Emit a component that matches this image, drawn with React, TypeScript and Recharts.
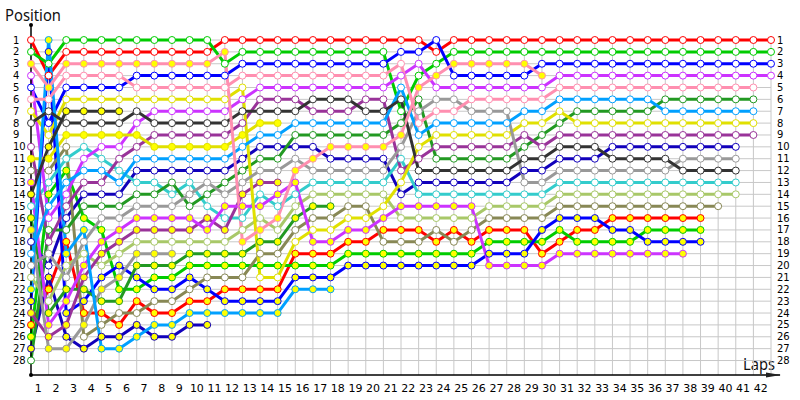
import { LineChart, Line, XAxis, YAxis, ReferenceLine, ReferenceDot } from "recharts";

const FONT = "'Noto Sans', sans-serif";
const TICK_FONT = "'DejaVu Sans', sans-serif";
const GRID = "#c8c8c8";

const red = [1,4,2,2,2,2,2,2,2,2, 2,1,1,1,1,1,1,1,1,1, 1,1,1,2,1,1,1,1,1,1, 1,1,1,1,1,1,1,1,1,1, 1,1,1];
const green = [2,3,1,1,1,1,1,1,1,1, 1,3,2,2,2,2,2,2,2,2, 2,7,4,3,2,2,2,2,2,2, 2,2,2,2,2,2,2,2,2,2, 2,2,2];
const blue = [5,8,5,5,5,5,4,4,4,4, 4,4,3,3,3,3,3,3,3,3, 3,2,2,1,4,4,4,4,4,3, 3,3,3,3,3,3,3,3,3,3, 3,3,3];
const violet = [4,16,14,11,10,10,8,7,7,7, 7,7,6,5,5,5,5,5,5,5, 5,4,3,5,5,5,5,5,5,5, 4,4,4,4,4,4,4,4,4,4, 4,4,4];
const pink = [6,6,4,4,4,4,5,5,5,5, 5,5,4,4,4,4,4,4,4,4, 4,3,8,7,7,6,6,6,6,6, 5,5,5,5,5,5,5,5,5,5, 5,5];
const forest = [28,17,17,15,15,15,14,14,13,15, 14,13,12,11,11,9,9,9,9,9, 9,8,6,11,11,11,11,11,10,9, 8,7,7,7,7,7,6,6,6,6, 6,6];
const sky = [19,15,13,12,12,13,11,11,11,11, 11,11,10,9,9,8,8,8,8,8, 8,5,9,8,8,8,8,8,7,7, 6,6,6,6,6,6,7,7,7,7, 7,7];
const yellow = [7,9,6,6,6,6,6,6,6,6, 6,6,5,21,21,18,17,17,16,16, 15,13,10,9,9,9,9,9,8,8, 7,8,8,8,8,8,8,8,8,8, 8,8];
const purple = [10,18,15,13,13,11,10,9,9,9, 9,9,8,6,6,6,7,7,7,6, 6,12,11,10,10,10,10,10,9,10, 9,9,9,9,9,9,9,9,9,9, 9,9];
const navy = [18,20,16,14,14,14,12,12,12,12, 12,12,11,10,10,10,10,11,11,11, 11,14,13,13,13,13,13,13,12,12, 11,11,11,10,10,10,10,10,10,10, 10];
const dark = [8,7,8,8,8,8,7,8,8,8, 8,8,7,7,7,7,6,6,6,7, 7,6,12,12,12,12,12,12,11,11, 10,10,10,11,11,11,11,12,12,12, 12];
const gray = [20,19,21,18,16,16,15,15,15,14, 13,14,13,12,12,11,12,12,12,12, 12,10,7,6,6,7,7,7,13,13, 12,12,12,12,12,12,12,11,11,11, 11];
const cyan = [15,13,11,10,11,12,13,13,14,13, 15,16,16,14,15,14,13,13,13,13, 13,11,14,14,14,14,14,14,14,14, 13,13,13,13,13,13,13,13,13,13, 13];
const lime = [21,23,20,19,20,19,18,18,18,18, 18,18,17,16,17,15,14,14,14,14, 14,16,16,16,16,16,15,15,15,15, 14,14,14,14,14,14,14,14,14,14, 14];
const olive = [12,12,10,26,25,24,24,23,23,22, 21,21,21,19,19,17,16,16,15,15, 18,18,18,17,18,17,16,16,16,16, 15,15,15,15,15,15,15,15,15,15];

const pinkB = [3,5,3,3,3,3,3,3,3,3, 3,2,18,17,16,12,11,10,10,10, 10,9,5,4,3,3,3,3,3,4];
const yellowB = [11,11,9,9,9,9,9,10,10,10, 10,10,9,8,8];
const violetB = [13,25,23,20,18,17,16,16,16,16, 17,15,15,15,14,13,18,18,17,17, 16,15,15,15,15,15,20,20,20,20, 19,19,19,19,19,19,19,19];
const darkB = [14,10,7,7,7,7];
const forestB = [16,24,22,22,23,23,20,20,20,19, 19,19,19,18,18,16,15,15];
const grayB = [17,27,27,25,22,21,19,19,19];
const skyB = [22,1,19,17,27,27,26,25,25,24, 24,24,24,24,24,22,22,22];
const blueB = [23,2,24,23,21,20,21,22,22,21, 22,23,23,23,23,21,21,21,20,20, 20,20,20,20,20,20,19,19,19,17, 16,16,16,17,17,18,18,18,18];
const purpleB = [24,26,25,21,19,18,17,17,17,17, 16,17,14,13,13];
const redB = [25,22,18,24,24,25,23,24,24,23, 23,22,22,22,22,19,19,19,18,18, 17,17,17,18,17,18,17,17,17,19, 18,17,17,16,16,16,16,16,16];
const greenB = [26,14,12,16,17,22,22,21,21,20, 20,20,20,20,20,20,20,20,19,19, 19,19,19,19,19,19,18,18,18,18, 17,18,18,18,18,17,17,17,17];
const navyB = [27,21,26,27,26,26,25,26,26,25, 25];

const laps = Array.from({ length: 43 }, (_, i) => i);
const positions = Array.from({ length: 28 }, (_, i) => i + 1);
const lapLabels = laps.slice(0, 42).map((l) => l + 0.5);

// drawn in this order, later ones on top
const cars: [string, number[], string, string][] = [
  ["red", red, "#ff0000", "#ffffff"],
  ["redB", redB, "#ff0000", "#ffff00"],
  ["green", green, "#00cc00", "#ffffff"],
  ["greenB", greenB, "#00cc00", "#ffff00"],
  ["blue", blue, "#0000ff", "#ffffff"],
  ["blueB", blueB, "#0000ff", "#ffff00"],
  ["navy", navy, "#1100bb", "#ffffff"],
  ["navyB", navyB, "#1100bb", "#ffff00"],
  ["olive", olive, "#888855", "#ffffff"],
  ["lime", lime, "#a8c868", "#ffffff"],
  ["cyan", cyan, "#33cccc", "#ffffff"],
  ["forest", forest, "#229922", "#ffffff"],
  ["forestB", forestB, "#229922", "#ffff00"],
  ["purple", purple, "#993399", "#ffffff"],
  ["purpleB", purpleB, "#993399", "#ffff00"],
  ["violet", violet, "#cc33ff", "#ffffff"],
  ["violetB", violetB, "#cc33ff", "#ffff00"],
  ["yellow", yellow, "#e0e000", "#ffffff"],
  ["yellowB", yellowB, "#e0e000", "#ffff00"],
  ["gray", gray, "#999999", "#ffffff"],
  ["grayB", grayB, "#999999", "#ffff00"],
  ["sky", sky, "#00a0ff", "#ffffff"],
  ["skyB", skyB, "#00a0ff", "#ffff00"],
  ["dark", dark, "#333333", "#ffffff"],
  ["darkB", darkB, "#333333", "#ffff00"],
  ["pink", pink, "#ff8fb0", "#ffffff"],
  ["pinkB", pinkB, "#ff8fb0", "#ffff00"],
];

const rows = laps.map((lap) => {
  const row: Record<string, number> = { lap };
  cars.forEach(([key, values]) => {
    if (lap < values.length) row[key] = values[lap];
  });
  return row;
});

const Y_TOP = -0.264;
const Y_BOTTOM = 29.22;
const X_MAX = 42.51;

function LeftTick({ y, payload }: any) {
  return <text x={13} y={y + 3.5} fontSize={10} fontFamily={TICK_FONT} fill="#000">{payload.value}</text>;
}

function RightTick({ y, payload }: any) {
  return <text x={777} y={y + 3.5} fontSize={10} fontFamily={TICK_FONT} fill="#000">{payload.value}</text>;
}

function LapTick({ x, y, payload }: any) {
  return <text x={x - 1.5} y={y + 9} fontSize={11} fontFamily={TICK_FONT} fill="#000" textAnchor="middle">{Math.ceil(payload.value)}</text>;
}

function Arrow({ cx, cy }: any) {
  return <polygon points={`${cx - 14},${cy - 2.5} ${cx + 1},${cy} ${cx - 14},${cy + 2.5}`} fill="#222" />;
}

export default function App() {
  return (
    <div style={{ position: "absolute", left: 0, top: 0 }}>
      <LineChart width={800} height={400} data={rows} margin={{ top: 25, right: 0, bottom: 0, left: 0 }}>
        <XAxis dataKey="lap" type="number" domain={[0, X_MAX]} ticks={lapLabels} interval={0} tick={<LapTick />} tickLine={false} axisLine={{ stroke: "#000", strokeWidth: 1.5 }} height={25} />
        <YAxis yAxisId="left" type="number" reversed domain={[Y_TOP, Y_BOTTOM]} ticks={positions} interval={0} tick={<LeftTick />} tickLine={false} axisLine={{ stroke: "#000", strokeWidth: 1.5 }} width={31} />
        <YAxis yAxisId="right" orientation="right" type="number" reversed domain={[Y_TOP, Y_BOTTOM]} ticks={positions} interval={0} tick={<RightTick />} tickLine={false} axisLine={false} width={20} />

        {positions.map((p) => (
          <ReferenceLine key={`h${p}`} yAxisId="left" segment={[{ x: 0, y: p }, { x: 42, y: p }]} stroke={GRID} strokeWidth={1} />
        ))}
        {laps.slice(1).map((l) => (
          <ReferenceLine key={`v${l}`} yAxisId="left" segment={[{ x: l, y: 1 }, { x: l, y: Y_BOTTOM }]} stroke={GRID} strokeWidth={1} />
        ))}

        {/* only here so the right axis has a series behind it */}
        <Line yAxisId="right" dataKey="red" stroke="none" dot={false} legendType="none" isAnimationActive={false} />

        {cars.map(([key, , color, fill]) => (
          <Line
            key={key}
            yAxisId="left"
            dataKey={key}
            type="linear"
            stroke={color}
            strokeWidth={3}
            strokeMiterlimit={10}
            dot={{ r: 3.5, fill, stroke: color, strokeWidth: 1, fillOpacity: 1 }}
            isAnimationActive={false}
          />
        ))}

        <ReferenceDot yAxisId="left" x={0} y={Y_TOP} r={2} fill="#000" stroke="none" ifOverflow="visible" />
        <ReferenceDot yAxisId="left" x={0} y={Y_BOTTOM} r={2} fill="#000" stroke="none" ifOverflow="visible" />
        <ReferenceDot yAxisId="left" x={X_MAX} y={Y_BOTTOM} shape={<Arrow />} ifOverflow="visible" />

        <text x={5} y={21} fontSize={17} textLength={56} lengthAdjust="spacingAndGlyphs" fontFamily={FONT} fill="#111">Position</text>
        <text x={743} y={370} fontSize={17} textLength={32} lengthAdjust="spacingAndGlyphs" fontFamily={FONT} fill="#111">Laps</text>
      </LineChart>
    </div>
  );
}
